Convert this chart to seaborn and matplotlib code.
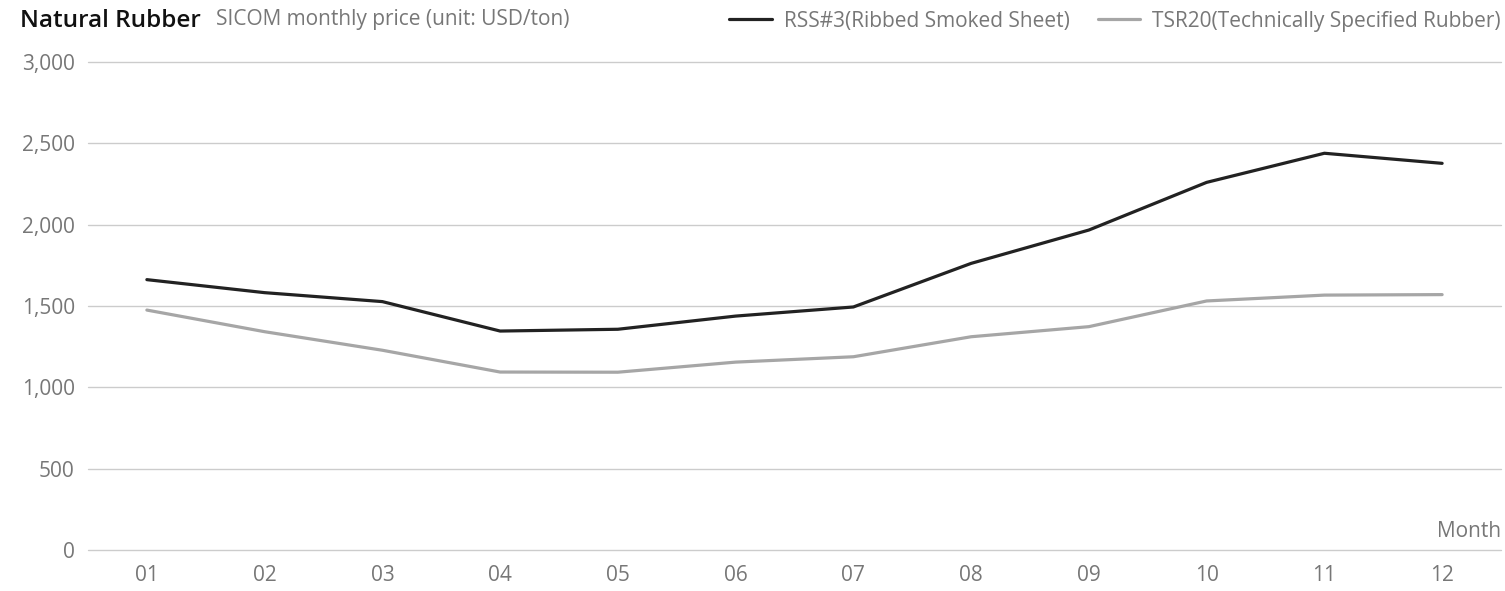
import pandas as pd
import numpy as np
import matplotlib.pyplot as plt
import matplotlib.ticker as mticker
import seaborn as sns

# datos
meses = ['01', '02', '03', '04', '05', '06', '07', '08', '09', '10', '11', '12']
rss3 = [1662, 1582, 1527, 1346, 1357, 1438, 1494, 1762, 1967, 2260, 2439, 2377]
tsr20 = [1475, 1342, 1228, 1094, 1093, 1155, 1188, 1311, 1373, 1531, 1567, 1570]
y_ticks = [0, 500, 1000, 1500, 2000, 2500, 3000]

serie_rss = 'RSS#3(Ribbed Smoked Sheet)'
serie_tsr = 'TSR20(Technically Specified Rubber)'

df = pd.DataFrame({
    'mes': meses * 2,
    'precio': rss3 + tsr20,
    'serie': [serie_rss] * len(meses) + [serie_tsr] * len(meses),
})

sns.set_style('white')
plt.rcParams['font.family'] = ['Open Sans', 'DejaVu Sans']

TAM = 15  # tamaño de letra de ejes y leyenda
GRIS = '#777777'

W, H = 1505, 591
fig = plt.figure(figsize=(W / 100, H / 100), dpi=100)
ax = fig.add_axes([88 / W, 1 - 550 / H, (1501 - 88) / W, (550 - 62) / H])

sns.lineplot(data=df, x='mes', y='precio', hue='serie', sort=False,
             palette={serie_rss: '#222222', serie_tsr: '#a6a6a6'},
             linewidth=2.3, ax=ax, legend=True)
for ln in ax.get_lines():
    ln.set_solid_joinstyle('round')
    ln.set_solid_capstyle('round')

ax.set_xlim(-0.5, len(meses) - 0.5)
ax.set_ylim(0, 3000)
ax.set_yticks(y_ticks)
ax.yaxis.set_major_formatter(mticker.FuncFormatter(lambda v, p: f'{int(v):,}'))
ax.grid(axis='y', color='#cccccc', linewidth=1)
ax.grid(axis='x', visible=False)
ax.set_axisbelow(True)
# que las líneas de 0 y 3,000 no queden recortadas en el borde
for gl in ax.yaxis.get_gridlines():
    gl.set_clip_on(False)
for s in ax.spines.values():
    s.set_visible(False)
ax.tick_params(axis='both', length=0, labelsize=TAM, labelcolor=GRIS)
ax.tick_params(axis='y', pad=9.5)
ax.tick_params(axis='x', pad=11)
ax.set_xlabel('')
ax.set_ylabel('')

ax.text(1.0, 13 / 488, 'Month', transform=ax.transAxes, ha='right', va='baseline',
        fontsize=TAM, color=GRIS)

leg = ax.legend(ncol=2, frameon=False, loc='center right', bbox_to_anchor=(1.0, 1 + 41 / 488),
                fontsize=TAM, handlelength=2.05, handletextpad=0.58, columnspacing=1.35,
                borderaxespad=0, borderpad=0)
for t in leg.get_texts():
    t.set_color(GRIS)

fig.text(20 / W, 1 - 21 / H, 'Natural Rubber', fontsize=17.5, fontweight='semibold',
         color='#111111', ha='left', va='center')
fig.text(216 / W, 1 - 19 / H, 'SICOM monthly price (unit: USD/ton)', fontsize=15,
         color=GRIS, ha='left', va='center')

fig.savefig('out.png', dpi=100)
